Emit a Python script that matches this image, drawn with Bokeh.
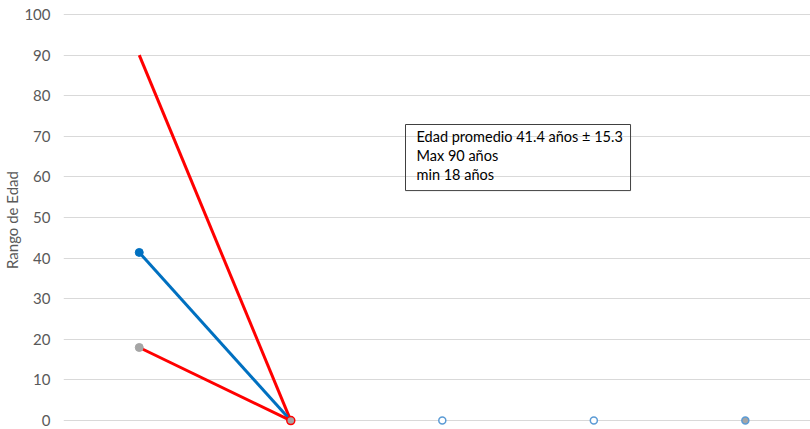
from bokeh.plotting import figure
from bokeh.models import Range1d, Label, SingleIntervalTicker
from bokeh.embed import file_html
from bokeh.resources import INLINE

# Category positions along the x axis
x_pos = [1, 2, 3, 4, 5]

# Age statistics (years)
edad_max = [90, 0]
edad_prom = [41.4, 0]
edad_min = [18, 0]
resto = [0, 0, 0]

FONT = "Lato"
GREY_TXT = "#595959"

p = figure(width=810, height=429, output_backend="svg", toolbar_location=None,
           x_range=Range1d(0.5, 5.43), y_range=Range1d(-2.2, 101),
           min_border_left=10, min_border_right=0, min_border_top=10,
           min_border_bottom=0, outline_line_color=None)

p.xaxis.visible = False
p.xgrid.visible = False
p.ygrid.grid_line_color = "#D9D9D9"
p.ygrid.grid_line_width = 1.2

p.yaxis.ticker = SingleIntervalTicker(interval=10)
p.yaxis.axis_line_color = None
p.yaxis.major_tick_line_color = None
p.yaxis.minor_tick_line_color = None
p.yaxis.major_label_text_font = FONT
p.yaxis.major_label_text_font_size = "15px"
p.yaxis.major_label_text_color = GREY_TXT
p.yaxis.major_label_standoff = 7
p.yaxis.axis_label = "Rango de Edad"
p.yaxis.axis_label_text_font = FONT
p.yaxis.axis_label_text_font_style = "normal"
p.yaxis.axis_label_text_font_size = "15px"
p.yaxis.axis_label_text_color = GREY_TXT
p.yaxis.axis_label_standoff = 0

# Lines from the first category down to zero at the second
p.line(x_pos[:2], edad_max, line_color="#FF0000", line_width=3)
p.line(x_pos[:2], edad_prom, line_color="#0070C0", line_width=3)
p.line(x_pos[:2], edad_min, line_color="#FF0000", line_width=3)

# Markers
p.scatter([x_pos[0]], [edad_prom[0]], size=8, fill_color="#0070C0", line_color="#0070C0")
p.scatter([x_pos[0]], [edad_min[0]], size=8, fill_color="#A5A5A5", line_color="#A5A5A5")
p.scatter([x_pos[1]], [edad_min[1]], size=8, fill_color="#A5A5A5", line_color="#FF0000", line_width=1.5)
p.scatter(x_pos[2:4], resto[:2], size=7, fill_color="white", line_color="#5B9BD5", line_width=1.5)
p.scatter([x_pos[4]], [resto[2]], size=7, fill_color="#A5A5A5", line_color="#5B9BD5", line_width=1.5)

# Summary text box
summary = "Edad promedio 41.4 años  ± 15.3\nMax 90 años\nmin 18 años"
p.add_layout(Label(x=342, y=305, x_units="screen", y_units="screen", text=summary,
                   text_baseline="top", text_align="left", text_font=FONT,
                   text_font_size="14.5px", text_color="#000000", text_line_height=1.12,
                   border_line_color="#404040", border_line_width=1,
                   background_fill_color=None, padding=(11, 4, 3, 8)))

open("out.html", "w").write(file_html(p, INLINE))
